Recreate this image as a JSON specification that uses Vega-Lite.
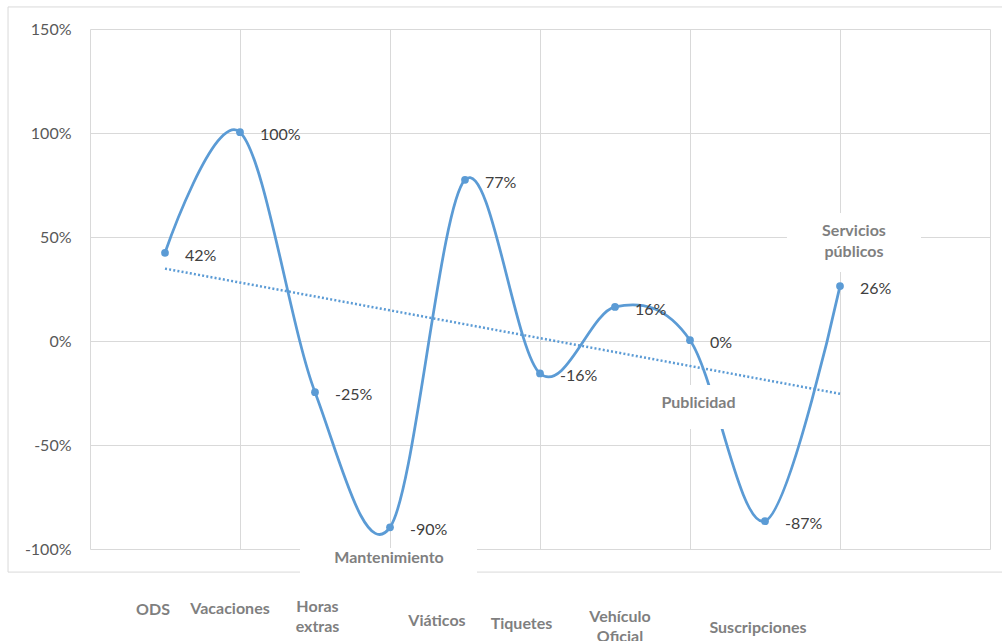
{
  "$schema": "https://vega.github.io/schema/vega-lite/v6.json",
  "width": 900,
  "height": 520,
  "autosize": {"type": "none"},
  "padding": {"left": 90, "top": 29, "right": 12, "bottom": 92},
  "background": "white",
  "config": {
    "view": {"stroke": null},
    "font": "Lato",
    "locale": {"number": {"decimal": ".", "thousands": ",", "grouping": [3], "currency": ["$", ""], "minus": "-"}}
  },
  "data": {
    "values": [
      {"cat": "ODS", "i": 1, "v": 0.424},
      {"cat": "Vacaciones", "i": 2, "v": 1.004},
      {"cat": "Horas extras", "i": 3, "v": -0.246},
      {"cat": "Mantenimiento", "i": 4, "v": -0.896},
      {"cat": "Viáticos", "i": 5, "v": 0.7749},
      {"cat": "Tiquetes", "i": 6, "v": -0.156},
      {"cat": "Vehículo Oficial", "i": 7, "v": 0.164},
      {"cat": "Publicidad", "i": 8, "v": 0.004},
      {"cat": "Suscripciones", "i": 9, "v": -0.866},
      {"cat": "Servicios públicos", "i": 10, "v": 0.264}
    ]
  },
  "encoding": {
    "x": {
      "field": "i", "type": "quantitative",
      "scale": {"domain": [0, 12], "nice": false, "zero": false},
      "axis": {"values": [0, 2, 4, 6, 8, 10, 12], "labels": false, "ticks": false, "domain": false, "grid": true, "gridColor": "#d9d9d9", "gridWidth": 1, "title": null}
    },
    "y": {
      "field": "v", "type": "quantitative",
      "scale": {"domain": [-1, 1.5], "nice": false, "zero": false},
      "axis": {"values": [-1, -0.5, 0, 0.5, 1, 1.5], "format": ".0%", "ticks": false, "domain": false, "grid": true, "gridColor": "#d9d9d9", "gridWidth": 1, "labelFont": "Lato", "labelFontSize": 16, "labelColor": "#595959", "labelPadding": 19, "title": null}
    }
  },
  "layer": [
    {
      "transform": [{"filter": "datum.i === 1"}],
      "mark": {"type": "rect", "filled": false, "stroke": "#d9d9d9", "strokeWidth": 1, "opacity": 1},
      "encoding": {"x": {"datum": -1.093, "type": "quantitative"}, "x2": {"datum": 12.2}, "y": {"datum": 1.606, "type": "quantitative"}, "y2": {"datum": -1.111}}
    },
    {
      "transform": [{"regression": "v", "on": "i", "extent": [1, 10]}],
      "mark": {"type": "line", "color": "#5B9BD5", "strokeWidth": 2.5, "strokeDash": [2, 2.2]}
    },
    {
      "mark": {"type": "line", "interpolate": "cardinal", "tension": 0, "color": "#5B9BD5", "strokeWidth": 2.75}
    },
    {
      "transform": [{"filter": "datum.i === 1"}],
      "mark": {"type": "rect", "fill": "white", "opacity": 1},
      "encoding": {"x": {"datum": 2.8, "type": "quantitative"}, "x2": {"datum": 5.16}, "y": {"datum": -0.995, "type": "quantitative"}, "y2": {"datum": -1.13}}
    },
    {
      "transform": [{"filter": "datum.i === 1"}],
      "mark": {"type": "rect", "fill": "white", "opacity": 1},
      "encoding": {"x": {"datum": 7.467, "type": "quantitative"}, "x2": {"datum": 8.773}, "y": {"datum": -0.2115, "type": "quantitative"}, "y2": {"datum": -0.423}}
    },
    {
      "transform": [{"filter": "datum.i === 1"}],
      "mark": {"type": "rect", "fill": "white", "opacity": 1},
      "encoding": {"x": {"datum": 9.293, "type": "quantitative"}, "x2": {"datum": 11.08}, "y": {"datum": 0.615, "type": "quantitative"}, "y2": {"datum": 0.332}}
    },
    {
      "mark": {"type": "circle", "size": 60, "color": "#5B9BD5", "opacity": 1}
    },
    {
      "mark": {"type": "text", "align": "left", "dx": 20, "dy": 3, "fontSize": 16, "color": "#404040", "font": "Lato"},
      "encoding": {"text": {"field": "v", "type": "quantitative", "format": ".0%"}}
    },
    {
      "transform": [{"filter": "datum.cat === 'ODS'"}],
      "mark": {"type": "text", "dx": -12, "fontSize": 16, "fontWeight": "bold", "color": "#7f7f7f", "font": "Lato"},
      "encoding": {"y": {"datum": -1.293}, "text": {"field": "cat"}}
    },
    {
      "transform": [{"filter": "datum.cat === 'Vacaciones'"}],
      "mark": {"type": "text", "dx": -10, "fontSize": 16, "fontWeight": "bold", "color": "#7f7f7f", "font": "Lato"},
      "encoding": {"y": {"datum": -1.288}, "text": {"field": "cat"}}
    },
    {
      "transform": [{"filter": "datum.cat === 'Horas extras'"}],
      "mark": {"type": "text", "dx": 2.5, "fontSize": 16, "fontWeight": "bold", "color": "#7f7f7f", "font": "Lato", "lineBreak": " ", "lineHeight": 20},
      "encoding": {"y": {"datum": -1.279}, "text": {"field": "cat"}}
    },
    {
      "transform": [{"filter": "datum.cat === 'Mantenimiento'"}],
      "mark": {"type": "text", "dx": -1, "fontSize": 16, "fontWeight": "bold", "color": "#7f7f7f", "font": "Lato"},
      "encoding": {"y": {"datum": -1.043}, "text": {"field": "cat"}}
    },
    {
      "transform": [{"filter": "datum.cat === 'Viáticos'"}],
      "mark": {"type": "text", "dx": -28, "fontSize": 16, "fontWeight": "bold", "color": "#7f7f7f", "font": "Lato"},
      "encoding": {"y": {"datum": -1.346}, "text": {"field": "cat"}}
    },
    {
      "transform": [{"filter": "datum.cat === 'Tiquetes'"}],
      "mark": {"type": "text", "dx": -18.5, "fontSize": 16, "fontWeight": "bold", "color": "#7f7f7f", "font": "Lato"},
      "encoding": {"y": {"datum": -1.361}, "text": {"field": "cat"}}
    },
    {
      "transform": [{"filter": "datum.cat === 'Vehículo Oficial'"}],
      "mark": {"type": "text", "dx": 5, "fontSize": 16, "fontWeight": "bold", "color": "#7f7f7f", "font": "Lato", "lineBreak": " ", "lineHeight": 20},
      "encoding": {"y": {"datum": -1.327}, "text": {"field": "cat"}}
    },
    {
      "transform": [{"filter": "datum.cat === 'Publicidad'"}],
      "mark": {"type": "text", "dx": 8.5, "fontSize": 16, "fontWeight": "bold", "color": "#7f7f7f", "font": "Lato"},
      "encoding": {"y": {"datum": -0.298}, "text": {"field": "cat"}}
    },
    {
      "transform": [{"filter": "datum.cat === 'Suscripciones'"}],
      "mark": {"type": "text", "dx": -7, "fontSize": 16, "fontWeight": "bold", "color": "#7f7f7f", "font": "Lato"},
      "encoding": {"y": {"datum": -1.38}, "text": {"field": "cat"}}
    },
    {
      "transform": [{"filter": "datum.cat === 'Servicios públicos'"}],
      "mark": {"type": "text", "dx": 14, "fontSize": 16, "fontWeight": "bold", "color": "#7f7f7f", "font": "Lato", "lineBreak": " ", "lineHeight": 21},
      "encoding": {"y": {"datum": 0.529}, "text": {"field": "cat"}}
    }
  ]
}
